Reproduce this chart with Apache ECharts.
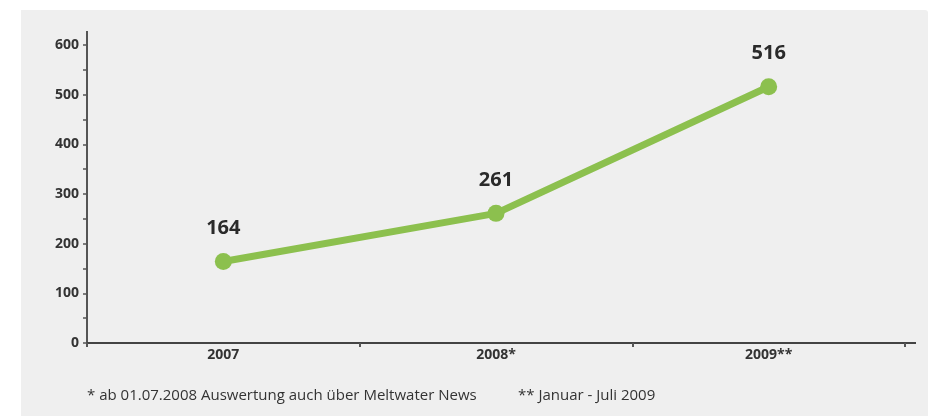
<!DOCTYPE html>
<html>
<head>
<meta charset="utf-8">
<script src="https://cdn.jsdelivr.net/npm/echarts@6/dist/echarts.min.js"></script>
<style>
html,body{margin:0;padding:0;background:#fff;}
#bg{position:absolute;left:21px;top:10px;width:907px;height:406px;background:#efefef;border-top-right-radius:3px;}
#chart{position:absolute;left:0;top:0;width:929px;height:416px;}
</style>
</head>
<body>
<div id="bg"></div>
<div id="chart"></div>
<script>
const categories = ['2007', '2008*', '2009**'];
const values = [164, 261, 516];
const yTicks = [0, 100, 200, 300, 400, 500, 600];
const footnote1 = '* ab 01.07.2008 Auswertung auch über Meltwater News';
const footnote2 = '** Januar - Juli 2009';

const FONT = '"Open Sans", "Noto Sans", sans-serif';
const chart = echarts.init(document.getElementById('chart'), null, {renderer: 'canvas'});
chart.setOption({
  backgroundColor: 'transparent',
  animation: false,
  grid: {left: 87, right: 24, top: 45, bottom: 73, containLabel: false},
  xAxis: {
    type: 'category',
    data: categories,
    boundaryGap: true,
    axisLine: {lineStyle: {color: '#444', width: 2}},
    axisTick: {show: true, length: 4, lineStyle: {color: '#555', width: 2}},
    axisLabel: {color: '#333', fontWeight: 'bold', fontSize: 14, fontFamily: FONT, margin: 5}
  },
  yAxis: {
    type: 'value',
    min: yTicks[0],
    max: yTicks[yTicks.length - 1],
    interval: 100,
    axisLine: {show: true, lineStyle: {color: '#555', width: 2}},
    axisTick: {show: true, length: 4, lineStyle: {color: '#555', width: 1.5}},
    minorTick: {show: true, splitNumber: 2, length: 4, lineStyle: {color: '#555', width: 1.5}},
    splitLine: {show: false},
    axisLabel: {color: '#333', fontWeight: 'bold', fontSize: 14, fontFamily: FONT, margin: 8}
  },
  graphic: [
    {type: 'line', shape: {x1: 87, y1: 31, x2: 87, y2: 46}, style: {stroke: '#555', lineWidth: 2}},
    {type: 'line', shape: {x1: 904, y1: 343, x2: 916, y2: 343}, style: {stroke: '#444', lineWidth: 2}},
    {type: 'text', left: 87, top: 388, style: {text: footnote1, fill: '#333', font: '15px ' + FONT}},
    {type: 'text', left: 518, top: 388, style: {text: footnote2, fill: '#333', font: '15px ' + FONT}}
  ],
  series: [{
    type: 'line',
    data: values,
    symbol: 'circle',
    symbolSize: 17,
    lineStyle: {color: '#8cc04e', width: 7},
    itemStyle: {color: '#8cc04e'},
    label: {show: true, position: 'top', distance: 15, color: '#2a2a2a', fontWeight: 'bold', fontSize: 20, fontFamily: FONT}
  }]
});
</script>
</body>
</html>
